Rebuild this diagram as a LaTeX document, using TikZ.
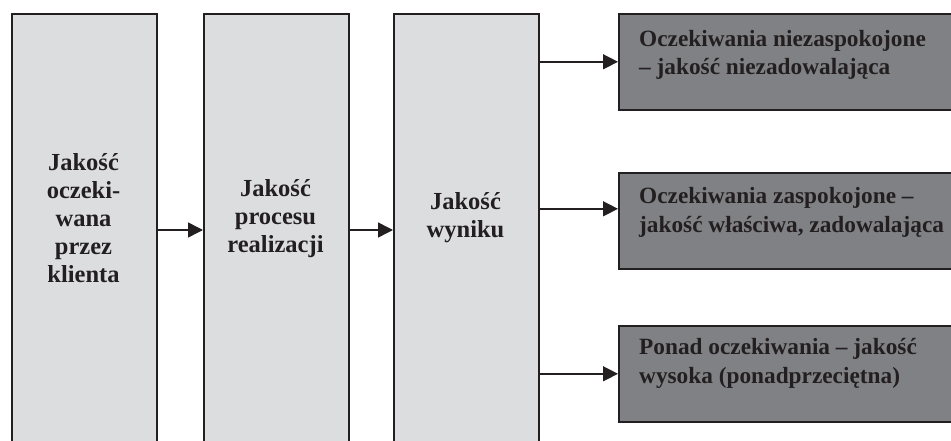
\documentclass[tikz,border=0pt]{standalone}
\usepackage{fontspec}
\setmainfont{Liberation Serif}
\usetikzlibrary{arrows.meta}
\definecolor{lightbox}{HTML}{DCDDDF}
\definecolor{darkbox}{HTML}{808184}
\definecolor{ink}{HTML}{231F20}
\begin{document}
\begin{tikzpicture}[x=1pt,y=-1pt,
  tallbox/.style={draw=ink,line width=2pt,fill=lightbox,rectangle,minimum width=145pt,minimum height=432pt,anchor=north west,inner sep=0pt},
  outbox/.style={draw=ink,line width=1.6pt,fill=darkbox,rectangle,minimum width=345pt,minimum height=96pt,anchor=north west,inner sep=0pt},
  talltext/.style={font=\bfseries\fontsize{24.5}{28}\selectfont,text=ink,align=center,inner sep=0pt},
  outtext/.style={font=\bfseries\fontsize{23.3}{28.5}\selectfont,text=ink,align=left,inner sep=0pt,anchor=base west},
  arr/.style={draw=ink,line width=1.5pt,-{Triangle[length=15pt,width=15pt]}}
]
\useasboundingbox (0,0) rectangle (951,441);
\clip (0,0) rectangle (951,441);
\node[tallbox] (b1) at (11,13) {};
\node[tallbox] (b2) at (203,13) {};
\node[tallbox] (b3) at (393,13) {};
\node[outbox] (r1) at (618,13) {};
\node[outbox] (r2) at (618,172) {};
\node[outbox] (r3) at (618,325) {};
\coordinate (r2in) at ([yshift=12pt]r2.west);
\node[talltext] (t1) at (83.5,218) {Jakość\\oczeki-\\wana\\przez\\klienta};
\node[talltext] (t2) at (275.5,219) {Jakość\\procesu\\realizacji};
\node[talltext] (t3) at (465.5,218) {Jakość\\wyniku};
\node[outtext] (o1) at (639,75) {Oczekiwania niezaspokojone\\– jakość niezadowalająca};
\node[outtext] (o2) at (639,232) {Oczekiwania zaspokojone –\\jakość właściwa, zadowalająca};
\node[outtext] (o3) at (639,383) {Ponad oczekiwania – jakość\\wysoka (ponadprzeciętna)};
\draw[arr] (b1.east) -- (b2.west);
\draw[arr] (b2.east) -- (b3.west);
\draw[arr] (b3.east |- r1.west) -- (r1.west);
\draw[arr] (b3.east |- r2in) -- (r2in);
\draw[arr] (b3.east |- r3.west) -- (r3.west);
\end{tikzpicture}
\end{document}
